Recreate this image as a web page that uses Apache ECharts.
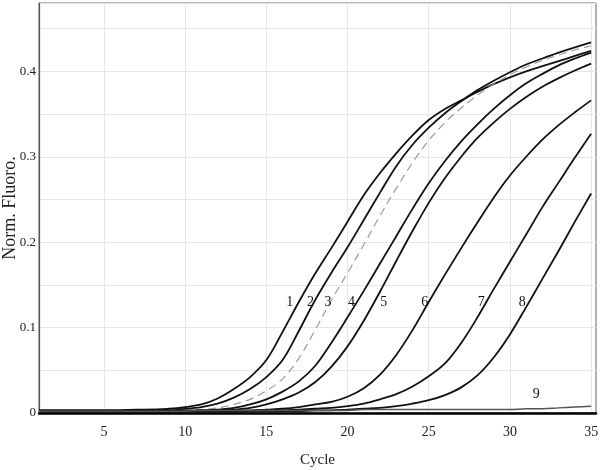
<!DOCTYPE html>
<html><head><meta charset="utf-8">
<script src="https://cdn.jsdelivr.net/npm/echarts@6/dist/echarts.min.js"></script>
<style>html,body{margin:0;padding:0;background:#fff}#c{width:600px;height:470px}</style>
</head><body><div id="c"></div>
<script>
const cycles = [1,2,3,4,5,6,7,8,9,10,11,12,13,14,15,16,17,18,19,20,21,22,23,24,25,26,27,28,29,30,31,32,33,34,35];
const curve1 = [0.003,0.003,0.003,0.003,0.003,0.003,0.004,0.004,0.005,0.007,0.010,0.017,0.028,0.042,0.062,0.095,0.130,0.163,0.193,0.224,0.255,0.281,0.304,0.325,0.343,0.356,0.366,0.376,0.385,0.393,0.400,0.406,0.412,0.418,0.424];
const curve2 = [0.003,0.003,0.003,0.003,0.003,0.003,0.003,0.004,0.004,0.005,0.007,0.011,0.018,0.028,0.042,0.062,0.096,0.132,0.164,0.194,0.226,0.258,0.289,0.314,0.334,0.351,0.365,0.378,0.389,0.399,0.408,0.415,0.422,0.428,0.434];
const curve3 = [0.002,0.002,0.002,0.002,0.002,0.002,0.002,0.002,0.003,0.003,0.004,0.006,0.010,0.016,0.026,0.040,0.064,0.097,0.132,0.164,0.197,0.231,0.263,0.293,0.319,0.340,0.357,0.372,0.385,0.396,0.405,0.413,0.419,0.425,0.430];
const curve4 = [0.002,0.002,0.002,0.002,0.002,0.002,0.002,0.002,0.002,0.003,0.003,0.004,0.006,0.010,0.016,0.025,0.037,0.055,0.082,0.112,0.143,0.175,0.207,0.239,0.269,0.295,0.318,0.338,0.356,0.372,0.386,0.397,0.407,0.415,0.422];
const curve5 = [0.002,0.002,0.002,0.002,0.002,0.002,0.002,0.002,0.002,0.002,0.003,0.003,0.004,0.006,0.010,0.016,0.024,0.036,0.054,0.078,0.108,0.142,0.178,0.213,0.246,0.275,0.300,0.322,0.340,0.356,0.370,0.382,0.392,0.401,0.409];
const curve6 = [0.002,0.002,0.002,0.002,0.002,0.002,0.002,0.002,0.002,0.002,0.002,0.002,0.003,0.003,0.004,0.005,0.007,0.010,0.013,0.019,0.029,0.045,0.068,0.097,0.130,0.162,0.193,0.223,0.252,0.278,0.300,0.320,0.337,0.352,0.366];
const curve7 = [0.002,0.002,0.002,0.002,0.002,0.002,0.002,0.002,0.002,0.002,0.002,0.002,0.002,0.002,0.003,0.003,0.004,0.005,0.006,0.008,0.011,0.016,0.022,0.031,0.043,0.058,0.082,0.112,0.145,0.177,0.209,0.241,0.270,0.299,0.327];
const curve8 = [0.002,0.002,0.002,0.002,0.002,0.002,0.002,0.002,0.002,0.002,0.002,0.002,0.002,0.002,0.002,0.002,0.002,0.003,0.003,0.004,0.005,0.006,0.008,0.011,0.015,0.021,0.030,0.044,0.065,0.092,0.124,0.157,0.190,0.224,0.257];
const curve9 = [0.002,0.002,0.002,0.002,0.002,0.002,0.002,0.002,0.002,0.002,0.003,0.003,0.003,0.003,0.003,0.003,0.003,0.003,0.003,0.003,0.004,0.004,0.004,0.004,0.004,0.004,0.004,0.004,0.004,0.004,0.005,0.005,0.006,0.007,0.008];

const curveNames = ['1','2','3','4','5','6','7','8','9'];
const labelX = [16.44,17.72,18.80,20.24,22.23,24.75,28.24,30.76,31.62];
const labelY = [0.130,0.130,0.130,0.130,0.130,0.130,0.130,0.130,0.022];
const xTicks = [5,10,15,20,25,30,35];

const allCurves = [curve1,curve2,curve3,curve4,curve5,curve6,curve7,curve8,curve9];
const serif = 'Liberation Serif';

const series = allCurves.map((vals, i) => {
  let ls = {color:'#111', width:1.8};
  if (i === 2) ls = {color:'#9a9a9a', width:1.2, type:[8,5]};
  if (i === 8) ls = {color:'#555', width:1.5};
  return {
    name: curveNames[i], type:'line', smooth:0.35, showSymbol:false, symbol:'none',
    lineStyle: ls, z: i === 8 ? 3 : 2,
    data: cycles.map((c, k) => [c, vals[k]])
  };
});
series.push({
  type:'scatter', symbolSize:1, itemStyle:{color:'rgba(0,0,0,0)'},
  label:{show:true, position:'inside', formatter: p => p.data[2], fontFamily:serif, fontSize:14, color:'#111', opacity:1},
  data: labelX.map((x, i) => [x, labelY[i], curveNames[i]]), z:5
});

const chart = echarts.init(document.getElementById('c'));
chart.setOption({
  animation:false,
  backgroundColor:'#fff',
  grid:{left:39, right:4, top:3, bottom:57, outerBoundsMode:'none', containLabel:false, show:true, borderColor:'#666', borderWidth:1},
  xAxis:{
    type:'value', min:1, max:35.3,
    name:'Cycle', nameLocation:'middle', nameGap:40,
    nameTextStyle:{fontFamily:serif, fontSize:15, color:'#222'},
    axisLine:{show:true, onZero:false, lineStyle:{color:'#000', width:2.5}},
    axisTick:{show:false, customValues:xTicks},
    axisLabel:{customValues:xTicks, fontFamily:serif, fontSize:14, color:'#222', margin:12},
    splitLine:{show:true, lineStyle:{color:'#e6e6e6', width:1}}
  },
  yAxis:{
    type:'value', min:0, max:0.48, interval:0.05,
    name:'Norm. Fluoro.', nameLocation:'middle', nameGap:20, nameMoveOverlap:false,
    nameTextStyle:{fontFamily:serif, fontSize:18, color:'#222'},
    axisLine:{show:true, lineStyle:{color:'#555', width:1.2}},
    axisTick:{show:false},
    axisLabel:{fontFamily:serif, fontSize:13, color:'#222', margin:3,
      formatter: v => { const n = Math.round(v*100); if (n % 10 !== 0 || n > 45) return ''; return n === 0 ? '0' : (n/100).toFixed(1); }},
    splitLine:{show:true, lineStyle:{color:'#e6e6e6', width:1}}
  },
  series: series
});
</script></body></html>
